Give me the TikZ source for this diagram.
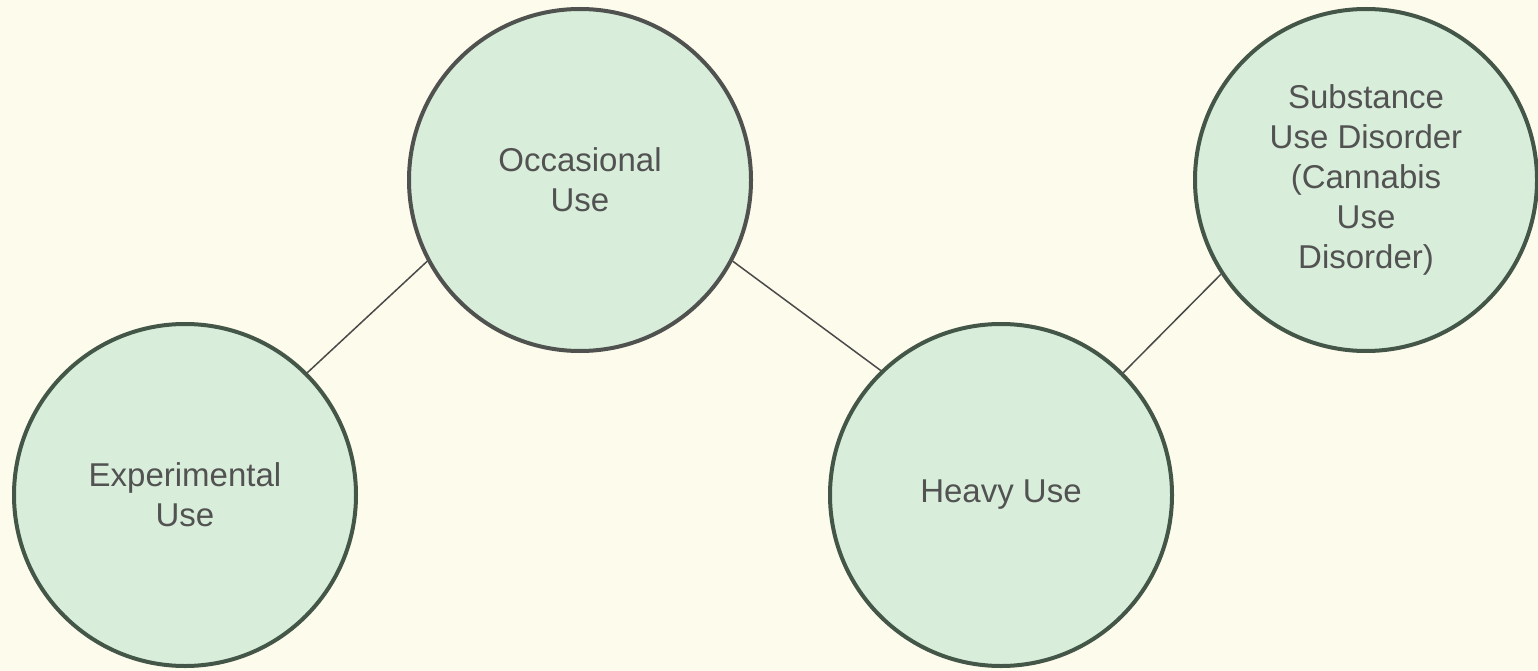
\documentclass[tikz,border=0pt]{standalone}
\usepackage{fontspec}
\setmainfont{Liberation Sans}
\usepackage{tikz}
\definecolor{colback}{RGB}{253,251,236}
\definecolor{colfill}{RGB}{216,238,218}
\definecolor{colring}{RGB}{68,86,72}
\definecolor{colgrey}{RGB}{80,82,80}
\definecolor{coltext}{RGB}{82,82,82}
\usetikzlibrary{
	positioning
}
\tikzset{
	stagenode/.style={circle, draw=colring, fill=colfill, line width=4pt,
		minimum size=342pt, inner sep=0pt, align=center, text=coltext,
		font=\fontsize{33}{40}\selectfont},
	stageedge/.style={draw=coltext!90!black, line width=1.5pt}
}

\begin{document}
\begin{tikzpicture}[x=1pt, y=-1pt]
	\fill[colback] (0,0) rectangle (1538,671);
	\useasboundingbox (0,0) rectangle (1538,671);
	% stages
	\node[stagenode] (experimental) at (185,495) {Experimental\\Use};
	\node[stagenode, draw=colgrey] (occasional) at (580,180) {Occasional\\Use};
	\node[stagenode] (heavy) at (1001,495) {Heavy Use};
	\node[stagenode] (disorder) at (1366,180) {Substance\\Use Disorder\\(Cannabis\\Use\\Disorder)};
	% links
	\draw[stageedge] (experimental.45.7) -- (occasional.208.6);
	\draw[stageedge] (occasional.-28.6) -- (heavy.134.3);
	\draw[stageedge] (heavy.45.7) -- (disorder.213.6);
\end{tikzpicture}
\end{document}
